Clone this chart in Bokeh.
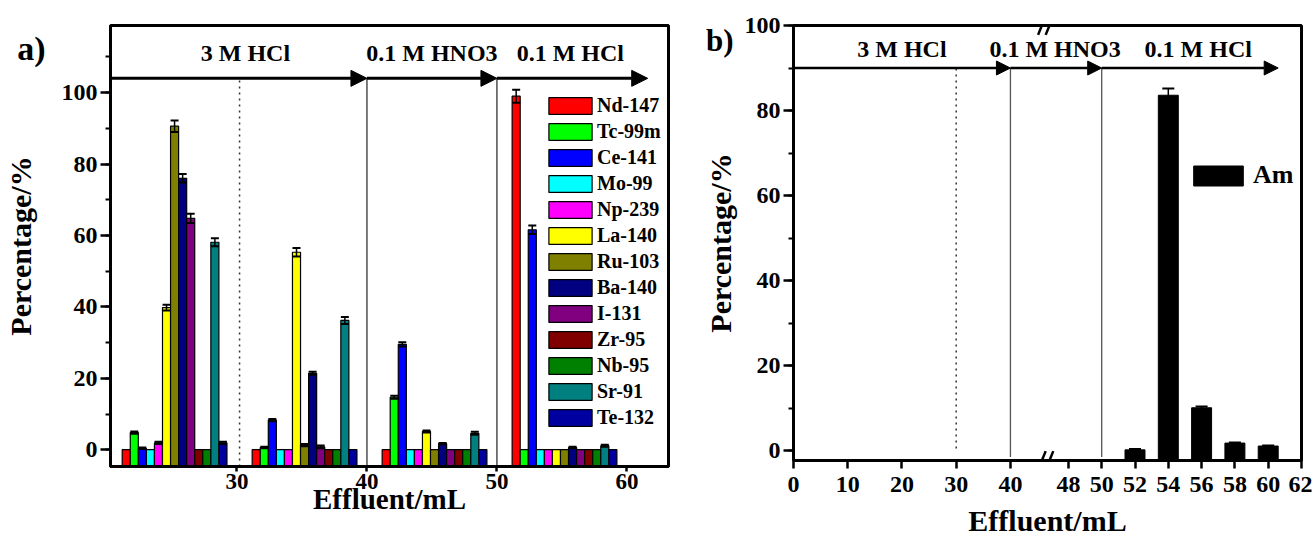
from bokeh.plotting import figure
from bokeh.layouts import row
from bokeh.models import (ColumnDataSource, Legend, LegendItem, Whisker, TeeHead, Arrow,
                          NormalHead, SingleIntervalTicker, FixedTicker, LinearAxis,
                          CustomJSTickFormatter, Range1d)
from bokeh.core.properties import value
from bokeh.embed import file_html
from bokeh.resources import INLINE

FONT = "Liberation Serif"

# ---------------- data: panel a ----------------
isotopes = ["Nd-147", "Tc-99m", "Ce-141", "Mo-99", "Np-239", "La-140", "Ru-103",
            "Ba-140", "I-131", "Zr-95", "Nb-95", "Sr-91", "Te-132"]
colors = ["#FF0000", "#00FF00", "#0000FF", "#00FFFF", "#FF00FF", "#FFFF00", "#808000",
          "#000080", "#800080", "#800000", "#008000", "#008080", "#0000A0"]
fraction_x = [25.2, 35.2, 45.2, 55.2]          # effluent fraction centres (mL)

nd147 = [0.0, 0.0, 0.0, 99.0]
tc99m = [4.8, 0.6, 14.7, 0.0]
ce141 = [0.4, 8.3, 29.5, 61.6]
mo99 = [0.0, 0.0, 0.0, 0.0]
np239 = [1.9, 0.0, 0.0, 0.0]
la140 = [39.8, 55.3, 5.1, 0.0]
ru103 = [90.6, 1.3, 0.0, 0.0]
ba140 = [76.0, 21.4, 1.7, 0.6]
i131 = [64.8, 0.8, 0.0, 0.0]
zr95 = [0.0, 0.0, 0.0, 0.0]
nb95 = [0.0, 0.0, 0.0, 0.0]
sr91 = [58.1, 36.2, 4.6, 1.1]
te132 = [1.9, 0.0, 0.0, 0.0]

nd147_err = [0, 0, 0, 1.8]
tc99m_err = [0.3, 0.2, 0.4, 0]
ce141_err = [0.2, 0.3, 0.6, 1.2]
mo99_err = [0, 0, 0, 0]
np239_err = [0.3, 0, 0, 0]
la140_err = [0.8, 1.2, 0.3, 0]
ru103_err = [1.6, 0.3, 0, 0]
ba140_err = [1.2, 0.4, 0.2, 0.2]
i131_err = [1.3, 0.4, 0, 0]
zr95_err = [0, 0, 0, 0]
nb95_err = [0, 0, 0, 0]
sr91_err = [1.1, 1.0, 0.4, 0.3]
te132_err = [0.3, 0, 0, 0]

series = [nd147, tc99m, ce141, mo99, np239, la140, ru103, ba140, i131, zr95, nb95, sr91, te132]
series_err = [nd147_err, tc99m_err, ce141_err, mo99_err, np239_err, la140_err, ru103_err,
              ba140_err, i131_err, zr95_err, nb95_err, sr91_err, te132_err]

x_ticks_a = [30, 40, 50, 60]
stage_labels = ["3 M HCl", "0.1 M HNO3", "0.1 M HCl"]
stage_label_x_a = [30.65, 45.0, 55.65]

# ---------------- data: panel b ----------------
am_x = [52, 54, 56, 58, 60]
am_y = [0.2, 83.6, 10.1, 1.8, 1.1]
am_err = [0.2, 1.6, 0.3, 0.15, 0.15]
x_ticks_b = [0, 10, 20, 30, 40, 48, 50, 52, 54, 56, 58, 60, 62]
stage_label_x_b = [20.0, 47.2, 55.8]


def style_axis(ax, tick_size="24px", label_size="30px"):
    ax.axis_line_width = 3
    ax.axis_line_color = "black"
    ax.major_label_text_font = FONT
    ax.major_label_text_font_style = "bold"
    ax.major_label_text_font_size = tick_size
    ax.major_label_text_color = "black"
    ax.axis_label_text_font = FONT
    ax.axis_label_text_font_style = "bold"
    ax.axis_label_text_font_size = label_size
    ax.axis_label_text_color = "black"
    ax.major_tick_line_width = 2.5
    ax.minor_tick_line_width = 2
    ax.major_tick_line_color = "black"
    ax.minor_tick_line_color = "black"
    ax.major_tick_in = 0
    ax.major_tick_out = 8
    ax.minor_tick_in = 0
    ax.minor_tick_out = 5
    ax.major_label_standoff = 3


def style_fig(p):
    for ax in p.axis:
        style_axis(ax)
    p.grid.visible = False
    p.outline_line_color = "black"
    p.outline_line_width = 3
    p.background_fill_color = "white"
    p.border_fill_color = "white"
    p.frame_align = False


def panel_tag_axis(p, tag, y, tag_size, label_standoff, title_standoff):
    """Outer left axis carrying the panel tag (as its only tick label) and the y title."""
    ax = LinearAxis(ticker=FixedTicker(ticks=[y], minor_ticks=[]),
                    formatter=CustomJSTickFormatter(code="return '%s';" % tag))
    style_axis(ax, tick_size=tag_size)
    ax.axis_line_alpha = 0
    ax.major_tick_line_alpha = 0
    ax.minor_tick_line_alpha = 0
    ax.major_tick_out = 0
    ax.major_label_standoff = label_standoff
    ax.axis_label = "Percentage/%"
    ax.axis_label_standoff = title_standoff
    p.add_layout(ax, "left")


# ======================= panel a =======================
YA0, YA1 = -4.7, 118.8
XA0, XA1 = 20.27, 63.2
p1 = figure(width=700, height=539, x_range=Range1d(XA0, XA1), y_range=Range1d(YA0, YA1),
            output_backend="svg", toolbar_location=None,
            min_border_left=110, min_border_right=32, min_border_top=25, min_border_bottom=73)
style_fig(p1)
p1.xaxis.ticker = FixedTicker(ticks=x_ticks_a, minor_ticks=[])
p1.yaxis.ticker = SingleIntervalTicker(interval=20, num_minor_ticks=2)
p1.yaxis.major_tick_out = 10
p1.xaxis.axis_label = "Effluent/mL"
style_axis(p1.xaxis[0], tick_size="23px", label_size="29px")
p1.xaxis.major_tick_out = 5
p1.xaxis.major_label_standoff = 2
p1.xaxis.axis_label_standoff = -9
panel_tag_axis(p1, "a)", 112.3, "34px", 13, -23)

# separators and stage arrows
p1.segment(x0=[30.2], y0=[YA0], x1=[30.2], y1=[104], line_color="#333333",
           line_width=1.5, line_dash="2 4")
p1.segment(x0=[40, 50], y0=[YA0, YA0], x1=[40, 50], y1=[104, 104], line_color="#333333",
           line_width=1.3)
arrow_ends_a = [(XA0, 40), (40, 50), (50, 61.6)]
for xs, xe in arrow_ends_a:
    p1.add_layout(Arrow(end=NormalHead(size=16, fill_color="black", line_color="black"),
                        x_start=xs, y_start=104, x_end=xe, y_end=104,
                        line_width=3, line_color="black"))

bw = 0.62
items = []
for i, (name, vals, errs, col) in enumerate(zip(isotopes, series, series_err, colors)):
    xs = [gx + (i - 6) * bw for gx in fraction_x]
    r = p1.vbar(x=xs, top=vals, bottom=YA0, width=bw, fill_color=col,
                line_color="black", line_width=1.2)
    items.append(LegendItem(label=name, renderers=[r]))
    ex = [x for x, e in zip(xs, errs) if e > 0]
    if ex:
        up = [v + e for v, e in zip(vals, errs) if e > 0]
        lo = [v - e for v, e in zip(vals, errs) if e > 0]
        src = ColumnDataSource(dict(x=ex, upper=up, lower=lo))
        p1.add_layout(Whisker(base="x", upper="upper", lower="lower", source=src,
                              line_width=1.5, line_color="black", level="annotation",
                              upper_head=TeeHead(size=8, line_width=2, line_color="black"),
                              lower_head=TeeHead(size=8, line_width=2, line_color="black")))

p1.text(x=stage_label_x_a, y=[111.2] * 3, text=stage_labels, text_font=value(FONT),
        text_font_style="bold", text_font_size="24px", text_align="center",
        text_baseline="middle", text_color="black")

leg1 = Legend(items=items, location=(433, 37), glyph_width=54, glyph_height=21,
              label_height=17, spacing=3, padding=0, margin=0, label_standoff=0,
              label_text_font=FONT, label_text_font_style="bold", label_text_font_size="20px",
              label_text_color="black", border_line_alpha=0, background_fill_alpha=0)
p1.add_layout(leg1)

# ======================= panel b (broken axis) =======================
B = 46.7   # break position (mL)
K = 3.07   # scale factor after the break


def brk(x):
    return x if x <= B else B + (x - B) * K


YB0, YB1 = -2.3, 100
p2 = figure(width=612, height=539, x_range=Range1d(0, brk(62)), y_range=Range1d(YB0, YB1),
            output_backend="svg", toolbar_location=None,
            min_border_left=90, min_border_right=11, min_border_top=25, min_border_bottom=79)
style_fig(p2)
p2.xaxis.ticker = FixedTicker(ticks=[brk(t) for t in x_ticks_b], minor_ticks=[])
p2.xaxis.formatter = CustomJSTickFormatter(args=dict(B=B, K=K), code="""
    const v = tick <= B ? tick : B + (tick - B) / K;
    return Math.round(v).toString();
""")
p2.yaxis.ticker = SingleIntervalTicker(interval=20, num_minor_ticks=2)
p2.yaxis.major_tick_out = 10
p2.xaxis.axis_label = "Effluent/mL"
p2.xaxis.major_label_standoff = 8
p2.xaxis.axis_label_standoff = 9
panel_tag_axis(p2, "b)", 96.5, "31px", 8, -34)

p2.segment(x0=[brk(30)], y0=[0.5], x1=[brk(30)], y1=[90], line_color="#333333",
           line_width=1.5, line_dash="2 4")
p2.segment(x0=[brk(40), brk(50)], y0=[-1.5, -1.5], x1=[brk(40), brk(50)], y1=[90, 90],
           line_color="#555555", line_width=1.3)
arrow_ends_b = [(0, 40), (40, 50), (50, 60.6)]
for xs, xe in arrow_ends_b:
    p2.add_layout(Arrow(end=NormalHead(size=14, fill_color="black", line_color="black"),
                        x_start=brk(xs), y_start=90, x_end=brk(xe), y_end=90,
                        line_width=2.5, line_color="black"))

# axis break marks
for yb in (YB0, YB1):
    p2.segment(x0=[B - 1.6, B - 0.2], y0=[yb - 2.2, yb - 2.2],
               x1=[B - 0.2, B + 1.2], y1=[yb + 2.2, yb + 2.2],
               line_color="black", line_width=2.5)

am_u = [brk(x) for x in am_x]
r_am = p2.vbar(x=am_u, top=am_y, bottom=YB0, width=1.2 * K, fill_color="black",
               line_color="black", line_width=1)
src_am = ColumnDataSource(dict(x=am_u, upper=[v + e for v, e in zip(am_y, am_err)],
                               lower=[v - e for v, e in zip(am_y, am_err)]))
p2.add_layout(Whisker(base="x", upper="upper", lower="lower", source=src_am,
                      line_width=1.5, line_color="black", level="annotation",
                      upper_head=TeeHead(size=12, line_width=2, line_color="black"),
                      lower_head=TeeHead(size=12, line_width=2, line_color="black")))

p2.text(x=[brk(v) for v in stage_label_x_b], y=[94.4] * 3, text=stage_labels,
        text_font=value(FONT), text_font_style="bold", text_font_size="24px",
        text_align="center", text_baseline="middle", text_color="black")

leg2 = Legend(items=[LegendItem(label="Am", renderers=[r_am])], location=(394, 270),
              glyph_width=62, glyph_height=25, label_height=20, padding=0, margin=0,
              label_standoff=4, label_text_font=FONT, label_text_font_style="bold",
              label_text_font_size="26px", label_text_color="black",
              border_line_alpha=0, background_fill_alpha=0)
p2.add_layout(leg2)

layout = row(p1, p2)
open("out.html", "w").write(file_html(layout, INLINE))
